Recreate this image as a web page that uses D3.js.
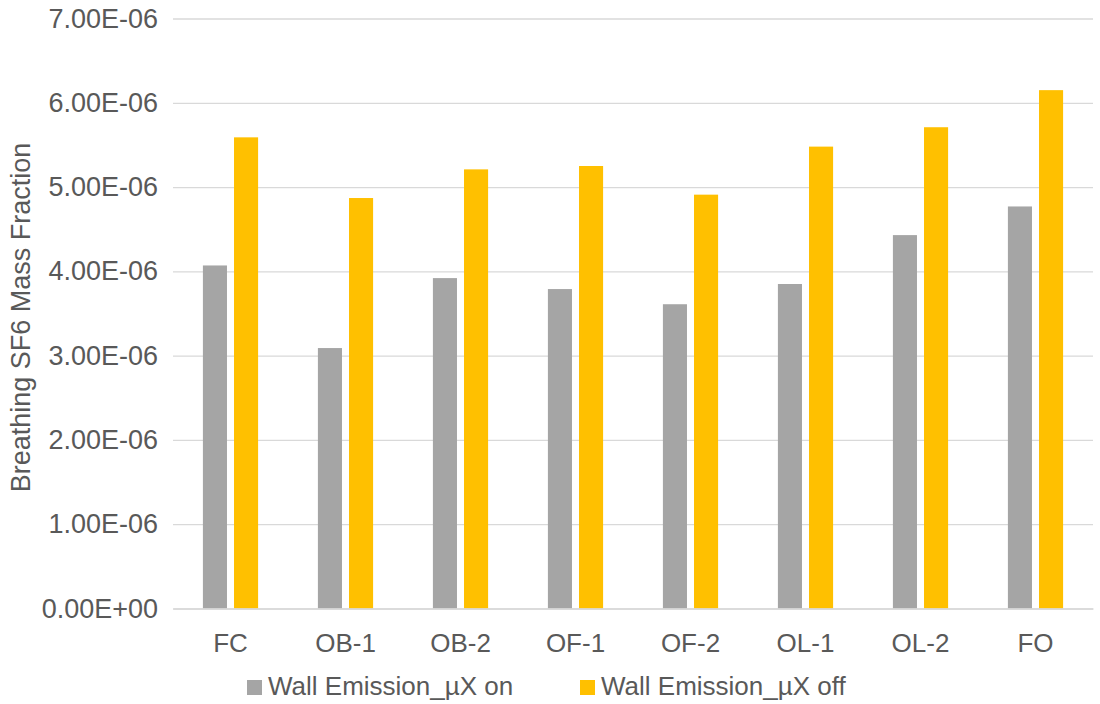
<!DOCTYPE html>
<html>
<head>
<meta charset="utf-8">
<script src="https://cdn.jsdelivr.net/npm/d3@7"></script>
<style>
  html, body { margin: 0; padding: 0; background: #fff; }
  svg { display: block; }
  text { font-family: "Liberation Sans", Arial, sans-serif; fill: #595959; }
</style>
</head>
<body>
<svg id="chart" width="1100" height="704"></svg>
<script>
const categories = ["FC", "OB-1", "OB-2", "OF-1", "OF-2", "OL-1", "OL-2", "FO"];
const seriesNames = ["Wall Emission_\u00b5X on", "Wall Emission_\u00b5X off"];
const valuesOn  = [4.07e-6, 3.09e-6, 3.92e-6, 3.79e-6, 3.61e-6, 3.85e-6, 4.43e-6, 4.77e-6];
const valuesOff = [5.59e-6, 4.87e-6, 5.21e-6, 5.25e-6, 4.91e-6, 5.48e-6, 5.71e-6, 6.15e-6];
const yTicks = [0, 1e-6, 2e-6, 3e-6, 4e-6, 5e-6, 6e-6, 7e-6];
const yTickLabels = ["0.00E+00", "1.00E-06", "2.00E-06", "3.00E-06", "4.00E-06", "5.00E-06", "6.00E-06", "7.00E-06"];
const colors = ["#A5A5A5", "#FFC000"];
const yTitle = "Breathing SF6 Mass Fraction";

(function () {
const svg = d3.select("#chart");
const pLeft = 173, pRight = 1093, pTop = 18.5, pBottom = 608.5;

const y = d3.scaleLinear().domain([0, 7e-6]).range([pBottom, pTop]);
const x0 = d3.scaleBand().domain(categories).range([pLeft, pRight]).paddingInner(0.52).paddingOuter(0.26);
const x1 = d3.scaleBand().domain(seriesNames).range([0, x0.bandwidth()]).paddingInner(0.226);

// gridlines
const yAxis = d3.axisLeft(y).tickValues(yTicks)
  .tickFormat((d, i) => yTickLabels[i])
  .tickSize(-(pRight - pLeft)).tickPadding(15);
const gy = svg.append("g").attr("transform", `translate(${pLeft},0)`).call(yAxis);
gy.select(".domain").remove();
gy.selectAll(".tick line").attr("stroke", "#D9D9D9").attr("stroke-width", 1.3);
gy.selectAll(".tick text").style("font-size", "27px").attr("fill", "#595959");

// bars
const data = categories.map((c, i) => ({ cat: c, vals: [valuesOn[i], valuesOff[i]] }));
const groups = svg.append("g").selectAll("g").data(data).join("g")
  .attr("transform", d => `translate(${x0(d.cat)},0)`);
groups.selectAll("rect").data(d => d.vals.map((v, j) => ({ s: seriesNames[j], v, j })))
  .join("rect")
  .attr("x", d => x1(d.s))
  .attr("width", x1.bandwidth())
  .attr("y", d => y(d.v))
  .attr("height", d => y(0) - y(d.v))
  .attr("fill", d => colors[d.j]);

// x axis labels
const xAxis = d3.axisBottom(x0).tickSize(0);
const gx = svg.append("g").attr("transform", `translate(0,${pBottom})`).call(xAxis);
gx.select(".domain").attr("stroke", "#D9D9D9").attr("stroke-width", 1.3);
gx.selectAll(".tick text").style("font-size", "26px").attr("fill", "#595959")
  .attr("y", 43.5).attr("dy", 0);

// y title
svg.append("text")
  .attr("transform", `translate(30,${317.5}) rotate(-90)`)
  .attr("text-anchor", "middle")
  .style("font-size", "27px")
  .text(yTitle);

// legend
const legendItems = [{ x: 247, name: seriesNames[0], c: colors[0] }, { x: 580, name: seriesNames[1], c: colors[1] }];
const lg = svg.append("g");
legendItems.forEach(it => {
  lg.append("rect").attr("x", it.x).attr("y", 680).attr("width", 15).attr("height", 15).attr("fill", it.c);
  lg.append("text").attr("x", it.x + 21).attr("y", 695).style("font-size", "26px").text(it.name);
});
})();
</script>
</body>
</html>
